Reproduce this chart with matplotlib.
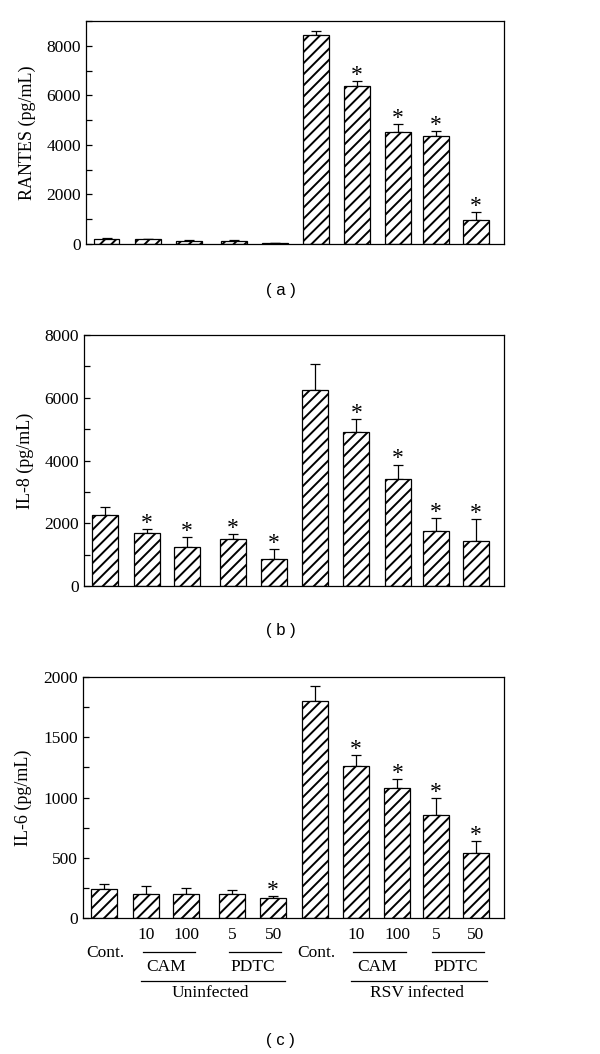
"""plot.py — RANTES / IL-8 / IL-6 bar panels (uninfected vs RSV infected)."""
import matplotlib
matplotlib.use("Agg")
import matplotlib.pyplot as plt
from matplotlib.transforms import blended_transform_factory

plt.rcParams["font.family"] = ["Liberation Serif", "DejaVu Serif"]
plt.rcParams["hatch.linewidth"] = 1.4

# bar slots: Cont., CAM 10, CAM 100, PDTC 5, PDTC 50 (uninfected) then the same for RSV
X_POS = [0, 1.02, 2.0, 3.1, 4.1, 5.1, 6.1, 7.1, 8.03, 9.0]

RANTES = [210, 200, 120, 120, 50, 8440, 6390, 4500, 4340, 970]
RANTES_ERR = [50, 20, 40, 50, 10, 150, 200, 350, 200, 320]
RANTES_STAR = [0, 0, 0, 0, 0, 0, 1, 1, 1, 1]

IL8 = [2280, 1700, 1240, 1485, 870, 6235, 4920, 3425, 1740, 1440]
IL8_ERR = [245, 115, 330, 160, 300, 830, 415, 445, 435, 700]
IL8_STAR = [0, 1, 1, 1, 1, 0, 1, 1, 1, 1]

IL6 = [238, 196, 196, 196, 163, 1801, 1259, 1076, 858, 542]
IL6_ERR = [45, 67, 50, 39, 22, 127, 91, 80, 138, 97]
IL6_STAR = [0, 0, 0, 0, 1, 0, 1, 1, 1, 1]

DOSE_LABELS = ["", "10", "100", "5", "50", "", "10", "100", "5", "50"]
DRUG_GROUPS = [("CAM", 1, 2), ("PDTC", 3, 4), ("CAM", 6, 7), ("PDTC", 8, 9)]
INFECTION_GROUPS = [("Uninfected", 1, 4), ("RSV infected", 6, 9)]
CONTROL_SLOTS = [0, 5]


def draw_panel(ax, values, errors, stars, ylabel, ymax, major, minor):
    ax.bar(X_POS, values, width=0.63, color="white", edgecolor="black",
           linewidth=0.9, hatch="///", zorder=2)
    ax.errorbar(X_POS, values, yerr=[[0] * len(errors), errors], fmt="none",
                ecolor="black", elinewidth=0.9, capsize=3.8, capthick=0.9, zorder=1)
    for x, v, e, s in zip(X_POS, values, errors, stars):
        if s:
            ax.annotate("*", (x, v + e), xytext=(0, -3.5), textcoords="offset points",
                        ha="center", va="bottom", fontsize=17)
    ax.set_xlim(-0.5, 9.68)
    ax.set_ylim(0, ymax)
    ax.set_yticks(range(0, ymax + 1, major))
    ax.set_yticks(range(0, ymax + 1, minor), minor=True)
    ax.set_xticks([])
    ax.tick_params(axis="y", which="both", direction="in", labelsize=12.5, width=0.9)
    ax.tick_params(axis="y", which="major", length=4)
    ax.tick_params(axis="y", which="minor", length=4)
    for spine in ax.spines.values():
        spine.set_linewidth(0.9)
    ax.set_ylabel(ylabel, fontsize=13)
    ax.yaxis.set_label_coords(-0.12, 0.5)


def draw_group_labels(ax):
    trans = blended_transform_factory(ax.transData, ax.transAxes)
    for x, label in zip(X_POS, DOSE_LABELS):
        if label:
            ax.text(x, -0.07, label, transform=trans, ha="center", va="center", fontsize=12.5)
    for slot in CONTROL_SLOTS:
        ax.text(X_POS[slot] + 0.05, -0.145, "Cont.", transform=trans,
                ha="center", va="center", fontsize=12.5)
    for name, a, b in DRUG_GROUPS:
        x0, x1 = X_POS[a] - 0.08, X_POS[b] + 0.2
        ax.plot([x0, x1], [-0.141, -0.141], color="black", lw=0.9,
                transform=trans, clip_on=False)
        ax.text((x0 + x1) / 2 - 0.05, -0.203, name, transform=trans,
                ha="center", va="center", fontsize=12.5)
    for name, a, b in INFECTION_GROUPS:
        x0, x1 = X_POS[a] - 0.12, X_POS[b] + 0.28
        ax.plot([x0, x1], [-0.261, -0.261], color="black", lw=0.9,
                transform=trans, clip_on=False)
        ax.text((x0 + x1) / 2 - 0.05, -0.311, name, transform=trans,
                ha="center", va="center", fontsize=12.5)


fig = plt.figure(figsize=(6, 10.54), dpi=100)

ax_a = fig.add_axes([0.1433, 0.7685, 0.6967, 0.2116])
draw_panel(ax_a, RANTES, RANTES_ERR, RANTES_STAR, "RANTES (pg/mL)", 9000, 2000, 1000)
ax_a.set_yticks(range(0, 8001, 2000))

ax_b = fig.add_axes([0.14, 0.444, 0.70, 0.2381])
draw_panel(ax_b, IL8, IL8_ERR, IL8_STAR, "IL-8 (pg/mL)", 8000, 2000, 1000)

ax_c = fig.add_axes([0.1383, 0.129, 0.7017, 0.2287])
draw_panel(ax_c, IL6, IL6_ERR, IL6_STAR, "IL-6 (pg/mL)", 2000, 500, 250)
draw_group_labels(ax_c)

for label, ypix in [("( a )", 290), ("( b )", 631), ("( c )", 1040)]:
    fig.text(0.468, 1 - ypix / 1054, label, ha="center", va="center",
             fontsize=12, family=["Liberation Sans", "DejaVu Sans"])

fig.savefig("out.png", dpi=100)
